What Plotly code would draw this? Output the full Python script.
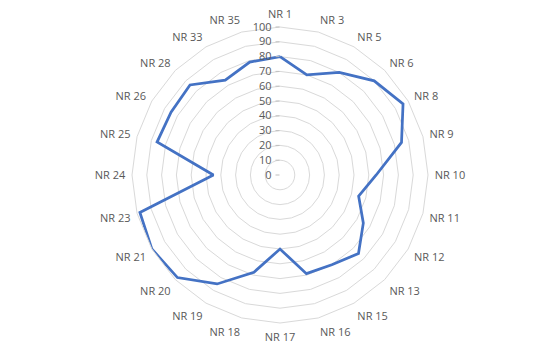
import plotly.graph_objects as go

categories = ["NR 1", "NR 3", "NR 5", "NR 6", "NR 8", "NR 9", "NR 10", "NR 11",
              "NR 12", "NR 13", "NR 15", "NR 16", "NR 17", "NR 18", "NR 19", "NR 20",
              "NR 21", "NR 23", "NR 24", "NR 25", "NR 26", "NR 28", "NR 33", "NR 35"]
values = [80, 70, 80, 90, 96, 85, 65, 55,
          65, 75, 70, 69, 50, 68, 85, 98,
          100, 98, 45, 86, 85, 86, 74, 79]
radial_ticks = list(range(0, 101, 10))

fig = go.Figure()
fig.add_trace(go.Scatterpolar(
    r=values + [values[0]],
    theta=categories + [categories[0]],
    mode="lines",
    line=dict(color="#4472C4", width=2.75),
    showlegend=False,
))

cx, cy, R = 280, 175, 148
W, H = 555, 344
fig.update_layout(
    width=W, height=H,
    margin=dict(l=0, r=0, t=0, b=0),
    paper_bgcolor="white",
    font=dict(family="Open Sans", size=11, color="#595959"),
    polar=dict(
        domain=dict(x=[(cx - R) / W, (cx + R) / W], y=[(H - cy - R) / H, (H - cy + R) / H]),
        bgcolor="white",
        gridshape="linear",
        angularaxis=dict(
            direction="clockwise", rotation=90,
            showgrid=False, showline=True, linecolor="#D9D9D9", linewidth=1,
            ticks="outside", ticklen=4, tickcolor="rgba(0,0,0,0)",
            tickfont=dict(size=11, color="#595959"),
        ),
        radialaxis=dict(
            range=[0, 100], tickvals=radial_ticks, angle=90, tickangle=90,
            showgrid=True, gridcolor="#D9D9D9", gridwidth=1,
            showline=False, ticks="outside", ticklen=4, tickcolor="#BFBFBF",
            side="counterclockwise",
            tickfont=dict(size=11, color="#595959"),
        ),
    ),
)

fig.write_html("out.html")
